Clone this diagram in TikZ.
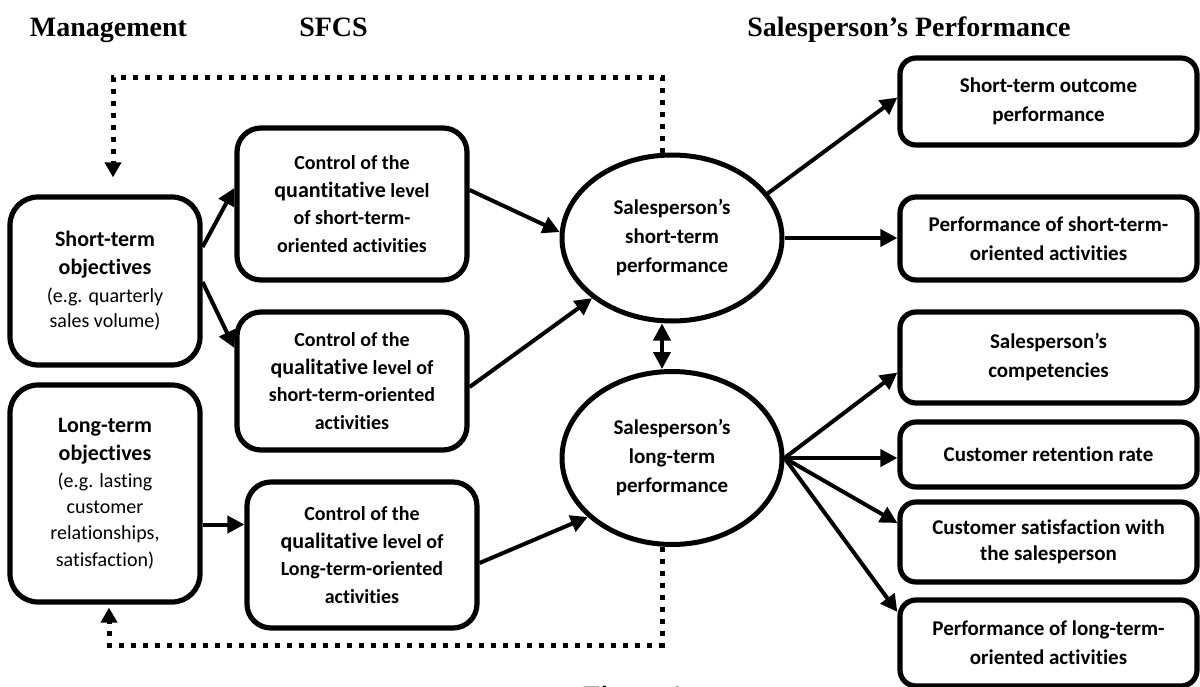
\documentclass[tikz,border=0pt]{standalone}
\usepackage{fontspec}
\setmainfont{Carlito}[Ligatures={NoCommon}]
\newfontfamily\tnr{Liberation Serif}
\usetikzlibrary{arrows.meta,shapes.geometric}
\begin{document}
\begin{tikzpicture}[x=0.5pt,y=-0.5pt,
  title/.style={font={\tnr\bfseries\fontsize{14}{16}\selectfont},inner sep=0pt},
  objbox/.style={draw,line width=2.6pt,rounded corners=14pt,align=center,inner sep=2pt,
    minimum width=95pt,font={\fontsize{10}{14}\selectfont}},
  ctlbox/.style={draw,line width=2.6pt,rounded corners=12pt,align=center,inner sep=2pt,
    minimum width=115pt,font={\bfseries\fontsize{10}{13.8}\selectfont}},
  perf/.style={draw,ellipse,line width=2.5pt,align=center,inner sep=0pt,
    minimum width=110pt,font={\bfseries\fontsize{10.5}{14.5}\selectfont}},
  outbox/.style={draw,line width=2.6pt,rounded corners=8pt,align=center,inner sep=2pt,
    minimum width=148.5pt,font={\bfseries\fontsize{10.5}{14.5}\selectfont}},
  arr/.style={line width=2pt,-{Triangle[length=8.5pt,width=8.5pt]}},
  darr/.style={line width=2pt,{Triangle[length=8.5pt,width=8.5pt]}-{Triangle[length=8.5pt,width=8.5pt]}},
  dotline/.style={line width=2.5pt,dash pattern=on 2.5pt off 3.5pt,-{Triangle[length=7.5pt,width=8pt]}}
]
\useasboundingbox (0,0) rectangle (1200,686);

% titles
\node[title,anchor=base] (tman) at (108.5,36) {Management};
\node[title,anchor=base] (tsfcs) at (333.5,36) {SFCS};
\node[title,anchor=base east] (tsp) at (1071,36) {Salesperson’s Performance};
\node[title,anchor=base west] (tfig) at (583,705) {Figure 1};

% objectives
\node[objbox,minimum height=84pt] (sobj) at (105,281)
  {{\bfseries\fontsize{11}{14}\selectfont Short-term}\\
   {\bfseries\fontsize{11}{14}\selectfont objectives}\\
   (e.g. quarterly\\[-1.5pt] sales volume)};
\node[objbox,minimum height=108.5pt,font={\fontsize{10}{13.2}\selectfont}] (lobj) at (105,493.5)
  {{\bfseries\fontsize{11}{14}\selectfont Long-term}\\[1pt]
   {\bfseries\fontsize{11}{14}\selectfont objectives}\\
   (e.g. lasting\\ customer\\ relationships,\\ satisfaction)};

% control boxes
\node[ctlbox,minimum height=76pt] (cquant) at (352,204)
  {Control of the\\ {\fontsize{11}{13.8}\selectfont quantitative} level\\ of short-term-\\ oriented activities};
\node[ctlbox,minimum height=69pt] (cqual) at (352,381)
  {Control of the\\ {\fontsize{11}{13.8}\selectfont qualitative} level of\\ short-term-oriented\\ activities};
\node[ctlbox,minimum height=73pt] (clong) at (362,555)
  {Control of the\\ {\fontsize{11}{13.8}\selectfont qualitative} level of\\ Long-term-oriented\\ activities};

% performance ellipses
\node[perf,minimum height=83pt] (es) at (672,238)
  {Salesperson’s\\ short-term\\ performance};
\node[perf,minimum height=86.5pt] (el) at (672,458)
  {Salesperson’s\\ long-term\\ performance};

% outcome boxes
\node[outbox,minimum height=43.5pt] (r1) at (1048.5,101.5) {Short-term outcome\\ performance};
\node[outbox,minimum height=41.5pt] (r2) at (1048.5,238.5) {Performance of short-term-\\ oriented activities};
\node[outbox,minimum height=45.5pt] (r3) at (1048.5,357.5) {Salesperson’s\\ competencies};
\node[outbox,minimum height=32.5pt] (r4) at (1048.5,454.5) {Customer retention rate};
\node[outbox,minimum height=40pt,font={\bfseries\fontsize{10.5}{13}\selectfont}] (r5) at (1048.5,542) {Customer satisfaction with\\ the salesperson};
\node[outbox,minimum height=43pt] (r6) at (1048.5,643) {Performance of long-term-\\ oriented activities};

% arrows left part
\draw[arr] ([yshift=17pt]sobj.east) -- ([yshift=8pt]cquant.west);
\draw[arr] ([yshift=-0.5pt]sobj.east) -- ([yshift=16.5pt]cqual.west);
\draw[arr] ([yshift=-15.5pt]lobj.east) -- ([yshift=-15.5pt]lobj.east -| clong.west);
\draw[arr] ([yshift=7pt]cquant.east) -- (es.177);
\draw[arr] ([yshift=-3pt]cqual.east) -- (es.217);
\draw[arr] ([yshift=-4pt]clong.east) -- (el.215);
\draw[darr] ([xshift=-5pt]es.south) -- ([xshift=-5pt]el.north);

% arrows right part
\draw[arr] (es.25) -- ([yshift=2pt]r1.west);
\draw[arr] (es.east) -- (es.east -| r2.west);
\draw[arr] (el.east) -- ([yshift=-7.5pt]r3.west);
\draw[arr] (el.east) -- (el.east -| r4.west);
\draw[arr] (el.east) -- ([yshift=9.5pt]r5.west);
\draw[arr] (el.east) -- ([yshift=15.5pt]r6.west);

% feedback loops
\coordinate (tl) at (113,77);
\coordinate (bl) at (109,645);
\draw[dotline] ([xshift=-5pt]es.north) |- (tl) -- ([xshift=4pt,yshift=8.5pt]sobj.north);
\draw[dotline] ([xshift=-5pt]el.south) |- (bl) -- ([xshift=2pt,yshift=-1.5pt]lobj.south);
\end{tikzpicture}
\end{document}
